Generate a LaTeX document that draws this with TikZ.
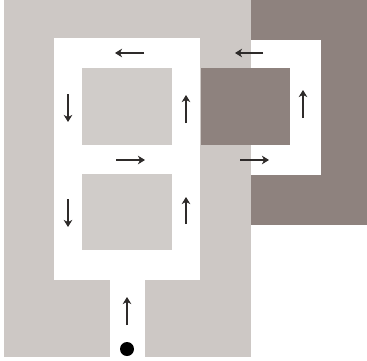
\documentclass[tikz,border=0pt]{standalone}
\usepackage{xcolor}
\usepackage{tikz}
\usetikzlibrary{arrows.meta,positioning}

\definecolor{wallgray}{HTML}{CDC8C5}
\definecolor{roomgray}{HTML}{D0CCC9}
\definecolor{taupe}{HTML}{8E827E}
\definecolor{arrowgray}{HTML}{2E2B2A}

\begin{document}
\begin{tikzpicture}[x=1pt, y=-1pt,
		wall/.style={fill=wallgray},
		room/.style={fill=roomgray},
		dark/.style={fill=taupe},
		hall/.style={fill=white},
		flow/.style={-{Stealth[length=7pt, width=8.5pt, inset=2pt]},
				line width=1.9pt, draw=arrowgray}]

		\useasboundingbox (0,0) rectangle (367,360);
		\fill[white] (0,0) rectangle (367,360);

		% ── Outer areas ──
		\fill[wall] (4,0) rectangle (251,357);
		\fill[dark] (251,0) rectangle (367,225);

		% ── Corridors ──
		\fill[hall] (54,38) rectangle (200,280);
		\fill[hall] (110,279) rectangle (145,357);
		\fill[hall] (251,40) rectangle (321,175);

		% ── Blocks ──
		\fill[room] (82,68) rectangle (172,145);
		\fill[room] (82,174) rectangle (172,250);
		\fill[dark] (201,68) rectangle (290,145);

		% ── Start point ──
		\node[circle, fill=black, inner sep=0pt, minimum size=14pt] (start) at (127,349) {};

		% ── Flow arrows ──
		\draw[flow] (127,325) -- (127,297);
		\draw[flow] (186,224) -- (186,197);
		\draw[flow] (186,123) -- (186,95);
		\draw[flow] (144,53) -- (115,53);
		\draw[flow] (68,94) -- (68,122);
		\draw[flow] (116,160) -- (145,160);
		\draw[flow] (68,199) -- (68,227);
		\draw[flow] (263,53) -- (235,53);
		\draw[flow] (303,118) -- (303,90);
		\draw[flow] (240,160) -- (269,160);

	\end{tikzpicture}
\end{document}
